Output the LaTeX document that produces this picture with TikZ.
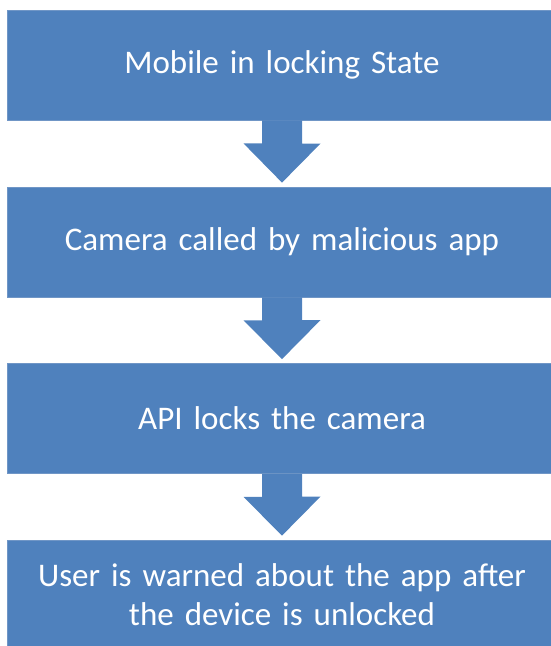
\documentclass[tikz,border=0pt]{standalone}
\usepackage{fontspec}
\setmainfont{Carlito}
\usepackage{tikz}
\usetikzlibrary{positioning}

\definecolor{flowblue}{HTML}{4F81BD}
\definecolor{flowedge}{HTML}{7096C6}

\begin{document}
\begin{tikzpicture}[x=1pt,y=1pt]

        \useasboundingbox (0,0) rectangle (550,-646);

        \begin{scope}[every node/.style={rectangle,fill=flowblue,draw=flowedge,
                line width=0.8pt,minimum width=550pt,minimum height=110pt,
                inner sep=0pt,text width=520pt,align=center,text=white,
                font=\fontsize{33}{39}\selectfont}]
            \node (A) at (282,-65) {Mobile in locking State};
            \node (B) at (282,-242) {Camera called by malicious app};
            \node (C) at (282,-418.5) {API locks the camera};
            \node (D) at (282,-595) {User is warned about the app after\\the device is unlocked};
        \end{scope}

        \foreach \s/\t in {A/B,B/C,C/D}
            \fill [flowblue] ([xshift=-20pt]\s.south) -- ++(0,-23) -- ++(-18.5,0)
                -- ([yshift=4pt]\t.north) -- ++(38.5,39) -- ++(-18.5,0)
                -- ([xshift=20pt]\s.south) -- cycle;
    \end{tikzpicture}
\end{document}
